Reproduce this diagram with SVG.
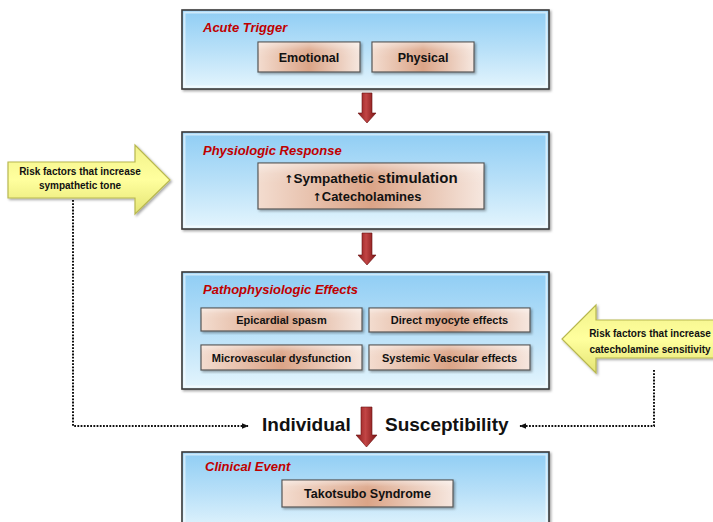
<svg xmlns="http://www.w3.org/2000/svg" width="713" height="522" viewBox="0 0 713 522">
<defs>
<linearGradient id="gBlue" x1="0" y1="0" x2="0" y2="1">
<stop offset="0" stop-color="#8fcdf4"/>
<stop offset="0.5" stop-color="#b8e0f8"/>
<stop offset="1" stop-color="#e4f5fd"/>
</linearGradient>
<linearGradient id="gPeach" x1="0" y1="0" x2="1" y2="0">
<stop offset="0" stop-color="#f3dccf"/>
<stop offset="0.5" stop-color="#dba487"/>
<stop offset="1" stop-color="#f6e7df"/>
</linearGradient>
<linearGradient id="gShine" x1="0" y1="0" x2="0" y2="1">
<stop offset="0" stop-color="#ffffff" stop-opacity="0.45"/>
<stop offset="0.5" stop-color="#ffffff" stop-opacity="0.1"/>
<stop offset="1" stop-color="#ffffff" stop-opacity="0"/>
</linearGradient>
<linearGradient id="gRed" x1="0" y1="0" x2="1" y2="0">
<stop offset="0" stop-color="#8a1a1a"/>
<stop offset="0.45" stop-color="#c24545"/>
<stop offset="1" stop-color="#7a1212"/>
</linearGradient>
<linearGradient id="gYellow" x1="0" y1="0" x2="0" y2="1">
<stop offset="0" stop-color="#f2f28a"/>
<stop offset="0.5" stop-color="#ffff9e"/>
<stop offset="1" stop-color="#e4e474"/>
</linearGradient>
<filter id="sh" x="-5%" y="-5%" width="110%" height="120%">
<feDropShadow dx="1.5" dy="1.5" stdDeviation="1.2" flood-color="#000" flood-opacity="0.35"/>
</filter>
<marker id="ah" viewBox="0 0 10 10" refX="9" refY="5" markerWidth="7" markerHeight="7" orient="auto" markerUnits="userSpaceOnUse">
<path d="M0,1 L10,5 L0,9 Z" fill="#111"/>
</marker>
<style>
.box{fill:url(#gBlue);stroke:#3a3a3a;stroke-width:1.6;filter:url(#sh)}
.bev{fill:none;stroke:#ffffff;stroke-opacity:0.55;stroke-width:2}
.pill{fill:url(#gPeach);stroke:#555;stroke-width:1.2;filter:url(#sh)}
.shine{fill:url(#gShine);stroke:none}
.ttl{font-family:"Liberation Sans",Arial,sans-serif;font-weight:bold;font-style:italic;font-size:13px;fill:#c00000}
.lbl{font-family:"Liberation Sans",Arial,sans-serif;font-weight:bold;font-size:12.5px;fill:#111;text-anchor:middle}
.sm{font-size:11px}
.risk{font-family:"Liberation Sans",Arial,sans-serif;font-weight:bold;font-size:10px;fill:#111;text-anchor:middle}
.red{fill:url(#gRed);stroke:#6a1010;stroke-width:0.6}
.yel{fill:url(#gYellow);stroke:#b8b850;stroke-width:1.2;filter:url(#sh)}
.dot{fill:none;stroke:#111;stroke-width:2;stroke-dasharray:1.8 1.4}
.big{font-family:"Liberation Sans",Arial,sans-serif;font-weight:bold;font-size:19px;fill:#111}
.up{font-family:"DejaVu Sans",sans-serif;font-size:11px}
</style>
</defs>
<rect width="713" height="522" fill="#ffffff"/>

<g id="connectors">
<path class="red" d="M362,93 H372 V113 H376 L367,123 L358,113 H362 Z"/>
<path class="red" d="M362,233 H372 V255 H376 L367,265 L358,255 H362 Z"/>
<path class="red" d="M361,407 H372 V435 H377 L366.5,447 L356,435 H361 Z"/>
<path class="dot" d="M73,200 V426 H248" marker-end="url(#ah)"/>
<path class="dot" d="M654,370 V426 H520" marker-end="url(#ah)"/>
</g>

<g id="acute-trigger">
<rect class="box" x="182" y="10" width="367" height="79"/>
<rect class="bev" x="184.5" y="12.5" width="362" height="74"/>
<text class="ttl" x="203" y="32">Acute Trigger</text>
<g id="emotional">
<rect class="pill" x="258" y="42" width="102" height="30"/>
<rect class="shine" x="258.6" y="42.6" width="100.8" height="14"/>
<text class="lbl" x="309" y="62">Emotional</text>
</g>
<g id="physical">
<rect class="pill" x="372" y="42" width="102" height="30"/>
<rect class="shine" x="372.6" y="42.6" width="100.8" height="14"/>
<text class="lbl" x="423" y="62">Physical</text>
</g>
</g>

<g id="physiologic-response">
<rect class="box" x="182" y="132" width="367" height="97"/>
<rect class="bev" x="184.5" y="134.5" width="362" height="92"/>
<text class="ttl" x="203" y="155">Physiologic Response</text>
<rect class="pill" x="258" y="163" width="226" height="46"/>
<rect class="shine" x="258.6" y="163.6" width="224.8" height="20"/>
<text class="lbl" x="371" y="183"><tspan class="up">↑</tspan><tspan style="font-size:13.5px">Sympathetic </tspan><tspan style="font-size:15px">stimulation</tspan></text>
<text class="lbl" x="367" y="201" style="font-size:13px"><tspan class="up">↑</tspan>Catecholamines</text>
</g>

<g id="pathophysiologic-effects">
<rect class="box" x="182" y="272" width="367" height="117"/>
<rect class="bev" x="184.5" y="274.5" width="362" height="112"/>
<text class="ttl" x="203" y="294">Pathophysiologic Effects</text>
<g id="epicardial">
<rect class="pill" x="201" y="308" width="161" height="23"/>
<rect class="shine" x="201.6" y="308.6" width="159.8" height="10"/>
<text class="lbl sm" x="281.5" y="324">Epicardial spasm</text>
</g>
<g id="myocyte">
<rect class="pill" x="369" y="308" width="161" height="24"/>
<rect class="shine" x="369.6" y="308.6" width="159.8" height="10"/>
<text class="lbl sm" x="449.5" y="324">Direct myocyte effects</text>
</g>
<g id="microvascular">
<rect class="pill" x="201" y="345" width="161" height="25"/>
<rect class="shine" x="201.6" y="345.6" width="159.8" height="11"/>
<text class="lbl sm" x="281.5" y="361.5">Microvascular dysfunction</text>
</g>
<g id="systemic">
<rect class="pill" x="369" y="345" width="161" height="25"/>
<rect class="shine" x="369.6" y="345.6" width="159.8" height="11"/>
<text class="lbl sm" x="449.5" y="361.5">Systemic Vascular effects</text>
</g>
</g>

<g id="clinical-event">
<rect class="box" x="182" y="452" width="367" height="80"/>
<rect class="bev" x="184.5" y="454.5" width="362" height="75"/>
<text class="ttl" x="205" y="471">Clinical Event</text>
<rect class="pill" x="282" y="480" width="171" height="27"/>
<rect class="shine" x="282.6" y="480.6" width="169.8" height="12"/>
<text class="lbl" x="367.5" y="498">Takotsubo Syndrome</text>
</g>

<g id="risk-sympathetic">
<path class="yel" d="M8,162 H135 V145 L170,180 L135,214 V198 H8 Z"/>
<text class="risk" x="80" y="175">Risk factors that increase</text>
<text class="risk" x="80" y="189">sympathetic tone</text>
</g>

<g id="risk-catecholamine">
<path class="yel" d="M720,320 H596 V305 L562,339 L596,373 V358 H720 Z"/>
<text class="risk" x="650" y="337">Risk factors that increase</text>
<text class="risk" x="650" y="353">catecholamine sensitivity</text>
</g>

<g id="individual-susceptibility">
<text class="big" x="262" y="431">Individual</text>
<text class="big" x="385" y="431">Susceptibility</text>
</g>
</svg>
